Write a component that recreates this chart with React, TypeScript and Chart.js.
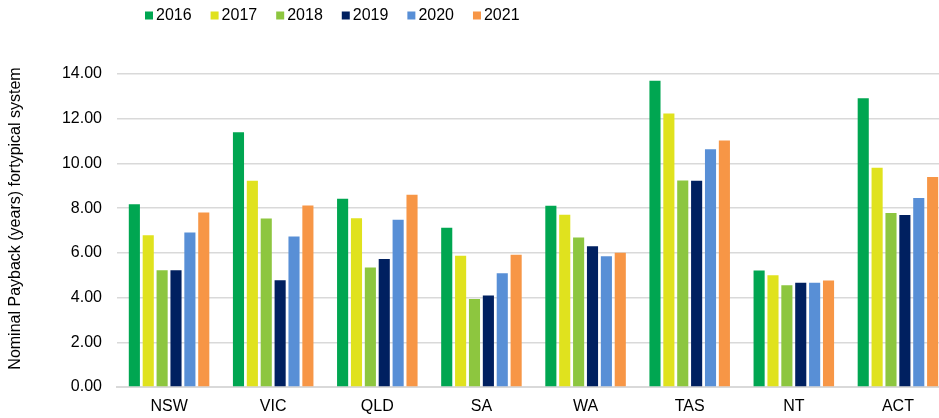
import React, { useEffect, useRef } from "react";
import { Chart, registerables } from "chart.js";

Chart.register(...registerables);

const categories = ["NSW", "VIC", "QLD", "SA", "WA", "TAS", "NT", "ACT"];
const seriesNames = ["2016", "2017", "2018", "2019", "2020", "2021"];
const values2016 = [8.17, 11.39, 8.42, 7.12, 8.11, 13.7, 5.21, 12.91];
const values2017 = [6.79, 9.23, 7.55, 5.87, 7.7, 12.23, 5.0, 9.81];
const values2018 = [5.22, 7.54, 5.35, 3.94, 6.69, 9.24, 4.55, 7.78];
const values2019 = [5.22, 4.78, 5.72, 4.09, 6.29, 9.23, 4.66, 7.69];
const values2020 = [6.91, 6.73, 7.48, 5.09, 5.85, 10.63, 4.66, 8.45];
const values2021 = [7.81, 8.12, 8.6, 5.91, 6.0, 11.03, 4.76, 9.39];
const seriesColors = ["#00A651", "#E0E21E", "#8DC63F", "#002060", "#588FD6", "#F79646"];
const yTickValues = [0, 2, 4, 6, 8, 10, 12, 14];
const yTitle = "Nominal Payback (years) fortypical system";

const FONT = '"Liberation Sans", Arial, sans-serif';

const overlayPlugin = {
  id: "overlay",
  afterDraw(chart: any) {
    const ctx = chart.ctx as CanvasRenderingContext2D;
    ctx.save();
    // legend
    ctx.font = `16px ${FONT}`;
    ctx.textBaseline = "middle";
    ctx.textAlign = "left";
    let x = 145;
    const y = 15.5;
    chart.data.datasets.forEach((ds: any) => {
      ctx.fillStyle = ds.backgroundColor;
      ctx.fillRect(x, y - 4, 8, 8);
      ctx.fillStyle = "#000";
      ctx.fillText(ds.label, x + 11, y + 0.5);
      x += 11 + ctx.measureText(ds.label).width + 19;
    });
    // y title
    ctx.translate(16, 218.5);
    ctx.rotate(-Math.PI / 2);
    ctx.textAlign = "center";
    ctx.fillStyle = "#000";
    ctx.fillText(yTitle, 0, 0);
    ctx.restore();
  },
};

export default function App() {
  const ref = useRef<HTMLCanvasElement | null>(null);
  useEffect(() => {
    if (!ref.current) return;
    const allValues = [values2016, values2017, values2018, values2019, values2020, values2021];
    const chart = new Chart(ref.current, {
      type: "bar",
      data: {
        labels: categories,
        datasets: seriesNames.map((name, i) => ({
          label: name,
          data: allValues[i],
          backgroundColor: seriesColors[i],
          borderWidth: 0,
          categoryPercentage: 0.8,
          barPercentage: 0.8,
        })),
      },
      options: {
        animation: false,
        responsive: true,
        maintainAspectRatio: false,
        layout: { padding: { left: 0, right: 2, top: 74, bottom: 0 } },
        plugins: {
          legend: { display: false },
          tooltip: { enabled: false },
        },
        scales: {
          x: {
            grid: { display: false, drawTicks: false },
            border: { display: true, color: "#D9D9D9", width: 2 },
            ticks: {
              color: "#000",
              font: { family: FONT, size: 16 },
              padding: 10,
              maxRotation: 0,
            },
            afterFit(scale: any) {
              scale.height = 31;
            },
          },
          y: {
            min: 0,
            max: 14,
            afterBuildTicks(scale: any) {
              scale.ticks = yTickValues.map((v) => ({ value: v }));
            },
            grid: { color: "#D9D9D9", lineWidth: 1.5, drawTicks: false },
            border: { display: false },
            ticks: {
              color: "#000",
              font: { family: FONT, size: 16 },
              padding: 15,
              callback: (v: any) => Number(v).toFixed(2),
            },
            afterFit(scale: any) {
              scale.width = 117;
            },
          },
        },
      },
      plugins: [overlayPlugin],
    });
    return () => chart.destroy();
  }, []);

  return (
    <div
      style={{
        position: "fixed",
        left: 0,
        top: 0,
        width: 939,
        height: 418,
        overflow: "hidden",
        background: "#fff",
      }}
    >
      <div style={{ position: "relative", width: 952, height: 418 }}>
        <canvas ref={ref} />
      </div>
    </div>
  );
}
